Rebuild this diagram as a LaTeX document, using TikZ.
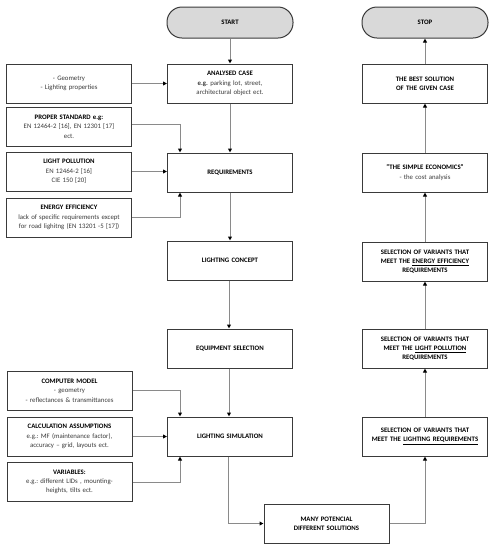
\documentclass[tikz,border=0pt]{standalone}
\usepackage{fontspec}
\setmainfont{Carlito}
\usetikzlibrary{arrows.meta,calc}
\definecolor{boxline}{HTML}{3A3A3A}
\definecolor{conn}{HTML}{8A8A8A}
\definecolor{pill}{HTML}{D9D9D9}
\definecolor{bodytxt}{HTML}{3A3A3A}
\frenchspacing
\begin{document}
\begin{tikzpicture}[x=1pt,y=-1pt,
  every node/.style={font=\fontsize{6.8}{9.3}\selectfont, align=center, inner sep=1pt},
  box/.style={draw=boxline, line width=1pt, minimum width=125pt, minimum height=39pt, text width=123pt},
  pillbox/.style={draw=boxline, line width=1pt, fill=pill, rounded corners=15pt, minimum width=126pt, minimum height=31pt},
  conn/.style={draw=conn, line width=1pt, -{Triangle[length=4pt,width=3.8pt,color=black]}}
]
\useasboundingbox (0,0) rectangle (494,550);
\fill[white] (0,0) rectangle (494,550);

% left/main column
\node[pillbox] (start) at (230,22.5) {\textbf{START}};
\node[box] (analysed) at (230,83.5) {\textbf{ANALYSED CASE}\\\textcolor{bodytxt}{\textbf{e.g.} parking lot, street,}\\\textcolor{bodytxt}{architectural object ect.}};
\node[box, minimum width=124pt] (geom) at (69,83.5) {\textcolor{bodytxt}{- Geometry}\\\textcolor{bodytxt}{- Lighting properties}};
\node[box, minimum width=124pt] (proper) at (69,126.5) {\textbf{PROPER STANDARD e.g:}\\\textcolor{bodytxt}{EN 12464-2 [16], EN 12301 [17]}\\\textcolor{bodytxt}{ect.}};
\node[box, minimum width=124pt] (lightpol) at (69,171.5) {\textbf{LIGHT POLLUTION}\\\textcolor{bodytxt}{EN 12464-2 [16]}\\\textcolor{bodytxt}{CIE 150 [20]}};
\node[box] (req) at (230,172.5) {\textbf{REQUIREMENTS}};
\node[box, minimum width=124pt] (energy) at (69,217.5) {\textbf{ENERGY EFFICIENCY}\\\textcolor{bodytxt}{lack of specific requirements except}\\\textcolor{bodytxt}{for road lighitng (EN 13201 -5 [17])}};
\node[box] (concept) at (230,260.5) {\textbf{LIGHTING CONCEPT}};
\node[box] (equip) at (230,348.5) {\textbf{EQUIPMENT SELECTION}};
\node[box] (comp) at (69.5,390.5) {\textbf{COMPUTER MODEL}\\\textcolor{bodytxt}{- geometry}\\\textcolor{bodytxt}{- reflectances \& transmittances}};
\node[box] (calc) at (69.5,436.5) {\textbf{CALCULATION ASSUMPTIONS}\\\textcolor{bodytxt}{e.g.: MF (maintenance factor),}\\\textcolor{bodytxt}{accuracy -- grid, layouts ect.}};
\node[box] (vars) at (69.5,482) {\textbf{VARIABLES:}\\\textcolor{bodytxt}{e.g.: different LIDs , mounting-}\\\textcolor{bodytxt}{heights, tilts ect.}};
\node[box] (sim) at (230,436.5) {\textbf{LIGHTING SIMULATION}};
\node[box] (many) at (326.5,523.5) {\textbf{MANY POTENCIAL}\\\textbf{DIFFERENT SOLUTIONS}};

% right column
\node[pillbox] (stop) at (425,22.5) {\textbf{STOP}};
\node[box] (best) at (425,83.5) {\textbf{THE BEST SOLUTION}\\\textbf{OF THE GIVEN CASE}};
\node[box] (econ) at (425,172.5) {\textbf{"THE SIMPLE ECONOMICS"}\\\textcolor{bodytxt}{- the cost analysis}};
\node[box] (selee) at (425,261.5) {\textbf{SELECTION OF VARIANTS THAT}\\\textbf{MEET THE \underline{ENERGY EFFICIENCY}}\\\textbf{REQUIREMENTS}};
\node[box] (sellp) at (425,348.5) {\textbf{SELECTION OF VARIANTS THAT}\\\textbf{MEET THE \underline{LIGHT POLLUTION}}\\\textbf{REQUIREMENTS}};
\node[box] (sellr) at (425,436.5) {\textbf{SELECTION OF VARIANTS THAT}\\\textbf{MEET THE \underline{LIGHTING REQUIREMENTS}}};

% connectors
\draw[conn] (start.south) -- (analysed.north);
\draw[conn] (geom.east) -- (analysed.west);
\draw[conn] ([yshift=2.5pt]proper.east) -| ([xshift=-50pt]req.north);
\draw[conn] (lightpol.east) -- (lightpol.east -| req.west);
\draw[conn] (energy.east) -| ([xshift=-50pt]req.south);
\draw[conn] (analysed.south) -- (req.north);
\draw[conn] (req.south) -- (concept.north);
\draw[conn] ([xshift=-1pt]concept.south) -- ([xshift=-1pt]equip.north);
\draw[conn] ([xshift=-1pt]equip.south) -- ([xshift=-1pt]sim.north);
\draw[conn] (comp.east) -| ([xshift=-50pt]sim.north);
\draw[conn] (calc.east) -- (sim.west);
\draw[conn] (vars.east) -| ([xshift=-50pt]sim.south);
\draw[conn] ([xshift=-2pt]sim.south) |- (many.west);
\draw[conn] (many.east) -| (sellr.south);
\draw[conn] (sellr.north) -- (sellp.south);
\draw[conn] (sellp.north) -- (selee.south);
\draw[conn] (selee.north) -- (econ.south);
\draw[conn] (econ.north) -- (best.south);
\draw[conn] (best.north) -- (stop.south);
\end{tikzpicture}
\end{document}
